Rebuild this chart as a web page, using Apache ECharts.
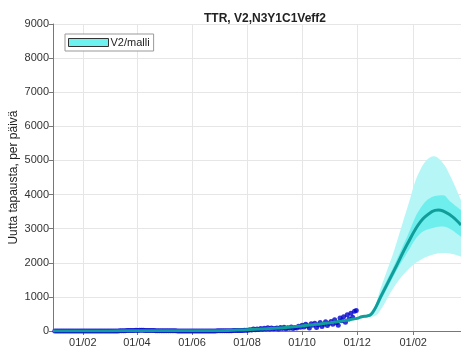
<!DOCTYPE html>
<html>
<head>
<meta charset="utf-8">
<script src="https://cdn.jsdelivr.net/npm/echarts@6/dist/echarts.min.js"></script>
<style>
  html, body { margin: 0; padding: 0; background: #fff; }
  #chart { width: 461px; height: 349px; }
</style>
</head>
<body>
<div id="chart"></div>
<script>
// x-axis ticks (1st of every second month)
const tickDates = ['2020-02-01', '2020-04-01', '2020-06-01', '2020-08-01', '2020-10-01', '2020-12-01', '2021-02-01'];

// observed cases, one value every 2 days from 2020-01-01
const obsStart = '2020-01-01';
const obsValues = [
  0, 0, 0, 0, 0, 0, 0, 0, 0, 0, 0, 0, 0, 0, 0, 0, 0, 0, 0, 0, 0, 0, 0, 0, 0, 0, 0, 0, 0, 0,
  0, 0, 0, 1, 2, 3, 5, 6, 8, 10, 12, 14, 15, 16, 18, 20,
  18, 20, 22, 20, 18, 16, 15, 14, 12, 12, 10, 10, 9, 8, 8,
  7, 6, 6, 5, 5, 4, 4, 3, 3, 3, 2, 2, 2, 2, 2,
  1, 1, 2, 1, 1, 1, 2, 1, 2, 2, 3, 2, 3, 3, 4,
  4, 5, 5, 6, 8, 7, 9, 10, 12, 11, 14, 15, 18, 16, 20, 22,
  25, 40, 30, 55, 35, 60, 45, 70, 50, 80, 60, 95, 55, 85, 65,
  70, 90, 60, 100, 75, 110, 65, 95, 80, 120, 70, 105, 90, 140, 110,
  170, 120, 200, 150, 90, 210, 170, 230, 100, 180, 250, 130, 200, 270, 160, 230,
  280, 200, 330, 240, 170, 380, 300, 420, 260, 480, 350, 520, 400, 580, 600
];

// model median
const modelDates = ['2019-12-30', '2020-03-01', '2020-04-01', '2020-05-01', '2020-06-01', '2020-07-01',
  '2020-08-01', '2020-09-01', '2020-10-01', '2020-11-01', '2020-12-01', '2020-12-06', '2020-12-12',
  '2020-12-16', '2020-12-20', '2020-12-27', '2021-01-11', '2021-01-26', '2021-02-09', '2021-02-22',
  '2021-03-01', '2021-03-14', '2021-03-26'];
const modelMedian = [2, 3, 10, 8, 4, 8, 40, 80, 150, 240, 370, 420, 440, 480, 620, 1000, 1780, 2570, 3200, 3500, 3550, 3400, 3110];

// prediction bands
const bandDates = ['2020-12-01', '2020-12-12', '2020-12-16', '2020-12-20', '2020-12-27', '2021-01-11',
  '2021-01-26', '2021-02-09', '2021-02-24', '2021-03-06', '2021-03-14', '2021-03-26'];
const outerLow  = [360, 400, 420, 430, 620, 1300, 1790, 2080, 2250, 2290, 2270, 2180];
const outerHigh = [385, 480, 540, 660, 1250, 2370, 3650, 4730, 5120, 4920, 4550, 3840];
const innerLow  = [365, 420, 445, 560, 880, 1640, 2320, 2860, 3030, 3060, 2990, 2760];
const innerHigh = [375, 455, 510, 680, 1120, 1930, 2810, 3600, 3950, 3980, 3800, 3550];

const xMin = '2019-12-30';
const xMax = '2021-03-26';

function ts(s) {
  return new Date(s + 'T00:00:00').getTime();
}

const obsData = obsValues.map((v, i) => [ts(obsStart) + i * 2 * 86400000, v]);
const medianData = modelDates.map((d, i) => [ts(d), modelMedian[i]]);
const outerBase = bandDates.map((d, i) => [ts(d), outerLow[i]]);
const outerSpan = bandDates.map((d, i) => [ts(d), outerHigh[i] - outerLow[i]]);
const innerBase = bandDates.map((d, i) => [ts(d), innerLow[i]]);
const innerSpan = bandDates.map((d, i) => [ts(d), innerHigh[i] - innerLow[i]]);
const tickValues = tickDates.map(ts);

const font = 'Liberation Sans, Arial, sans-serif';

const chart = echarts.init(document.getElementById('chart'));

const option = {
  backgroundColor: '#fff',
  animation: false,
  title: {
    text: 'TTR, V2,N3Y1C1Veff2',
    left: 260,
    textAlign: 'center',
    top: 8,
    textStyle: { fontFamily: font, fontSize: 12, fontWeight: 'bold', color: '#222' }
  },
  legend: {
    left: 65,
    top: 34,
    padding: [3, 4, 3, 3],
    itemWidth: 40,
    itemHeight: 8,
    borderColor: '#999',
    borderWidth: 1,
    backgroundColor: '#fff',
    textStyle: { fontFamily: font, fontSize: 11, color: '#222', padding: [0, 0, 0, -3] },
    data: [{ name: 'V2/malli', icon: 'rect', itemStyle: { color: '#6ef2f0', borderColor: '#333', borderWidth: 1 } }]
  },
  grid: { left: 53, right: 0, top: 24, bottom: 18, containLabel: false, outerBoundsMode: 'none' },
  xAxis: [
    {
      // data axis (hidden)
      type: 'time',
      show: false,
      min: ts(xMin),
      max: ts(xMax)
    },
    {
      // display axis
      type: 'value',
      position: 'bottom',
      min: ts(xMin),
      max: ts(xMax),
      axisLine: { onZero: false, lineStyle: { color: '#777', width: 1 } },
      axisTick: { show: true, length: 4, customValues: tickValues, lineStyle: { color: '#777' } },
      axisLabel: {
        customValues: tickValues,
        fontFamily: font, fontSize: 11, color: '#333', margin: 6,
        formatter: (v) => echarts.time.format(v, '{dd}/{MM}', false)
      },
      splitLine: { show: true, lineStyle: { color: '#e6e6e6', width: 1 } }
    }
  ],
  yAxis: {
    type: 'value',
    min: 0,
    max: 9000,
    interval: 1000,
    name: 'Uutta tapausta, per päivä',
    nameLocation: 'middle',
    nameGap: 33,
    nameMoveOverlap: false,
    nameTextStyle: { fontFamily: font, fontSize: 12, color: '#222' },
    axisLine: { show: true, lineStyle: { color: '#777', width: 1 } },
    axisTick: { show: true, length: 4, lineStyle: { color: '#777' } },
    axisLabel: { fontFamily: font, fontSize: 11, color: '#333', margin: 4, formatter: (v) => String(v) },
    splitLine: { show: true, lineStyle: { color: '#e6e6e6', width: 1 } }
  },
  series: [
    {
      name: 'outerBase', type: 'line', stack: 'outer', data: outerBase,
      smooth: 0.4, symbol: 'none', lineStyle: { opacity: 0 }, silent: true
    },
    {
      name: 'outerSpan', type: 'line', stack: 'outer', data: outerSpan,
      smooth: 0.4, symbol: 'none', lineStyle: { opacity: 0 },
      areaStyle: { color: '#b6f6f6', opacity: 1 }, silent: true
    },
    {
      name: 'innerBase', type: 'line', stack: 'inner', data: innerBase,
      smooth: 0.4, symbol: 'none', lineStyle: { opacity: 0 }, silent: true
    },
    {
      name: 'V2/malli', type: 'line', stack: 'inner', data: innerSpan,
      smooth: 0.4, symbol: 'none', lineStyle: { opacity: 0 },
      itemStyle: { color: '#6ef2f0' },
      areaStyle: { color: '#6eefee', opacity: 1 }, silent: true
    },
    {
      name: 'observed', type: 'scatter', data: obsData,
      symbolSize: 5, itemStyle: { color: '#0000cc' }, z: 3
    },
    {
      name: 'median', type: 'line', data: medianData,
      smooth: 0.4, symbol: 'none',
      lineStyle: { color: '#119d9a', width: 3 }, z: 4
    }
  ]
};

chart.setOption(option);
</script>
</body>
</html>
